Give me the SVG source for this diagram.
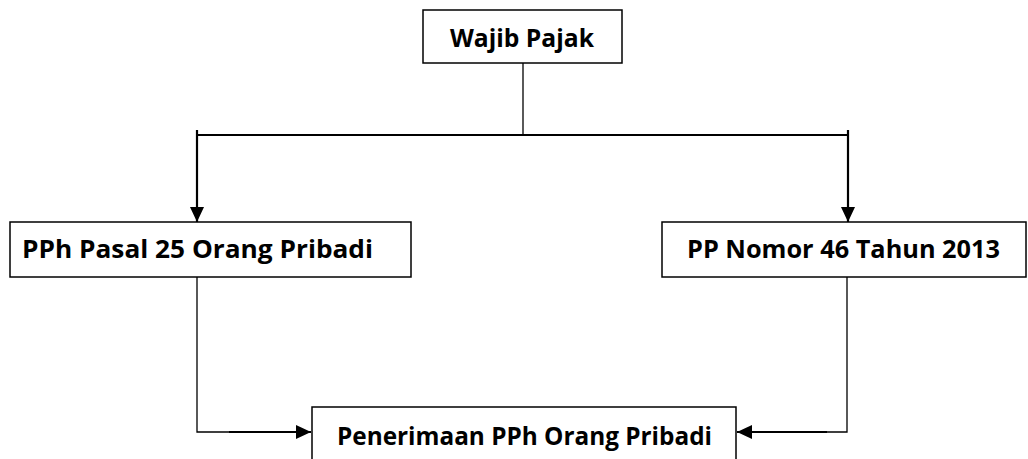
<svg xmlns="http://www.w3.org/2000/svg" width="1028" height="459" viewBox="0 0 1028 459">
<style>
.box{fill:#fff;stroke:#000;stroke-width:1.5}
.lbl{font-family:"Open Sans","Liberation Sans",sans-serif;font-weight:bold;font-size:25px;fill:#000}
.thin{fill:none;stroke:#000;stroke-width:1.3}
.thick{fill:none;stroke:#000;stroke-width:2.2}
</style>
<defs>
<marker id="arrB" markerWidth="15" markerHeight="15" refX="15" refY="7" orient="auto" markerUnits="userSpaceOnUse" viewBox="0 0 15 14">
<path d="M0,0 L15,7 L0,14 Z" fill="#000"/>
</marker>
</defs>
<g id="connectors">
<line class="thin" x1="523" y1="63" x2="523" y2="135"/>
<line class="thick" x1="197" y1="135" x2="848" y2="135"/>
<line class="thick" x1="197" y1="130" x2="197" y2="222" marker-end="url(#arrB)"/>
<line class="thick" x1="848" y1="130" x2="848" y2="222" marker-end="url(#arrB)"/>
<polyline class="thin" points="197,277 197,432 230,432"/>
<line class="thick" x1="229" y1="432" x2="311" y2="432" marker-end="url(#arrB)"/>
<polyline class="thin" points="847,277 847,432 826,432"/>
<line class="thick" x1="827" y1="432" x2="737" y2="432" marker-end="url(#arrB)"/>
</g>
<g id="wajib">
<rect class="box" x="423" y="10" width="199" height="53"/>
<text class="lbl" x="450" y="47" textLength="144" lengthAdjust="spacingAndGlyphs">Wajib Pajak</text>
</g>
<g id="pph25">
<rect class="box" x="10" y="222" width="401" height="55"/>
<text class="lbl" x="22" y="258" textLength="351" lengthAdjust="spacingAndGlyphs">PPh Pasal 25 Orang Pribadi</text>
</g>
<g id="pp46">
<rect class="box" x="662" y="222" width="364" height="55"/>
<text class="lbl" x="687" y="258" textLength="313" lengthAdjust="spacingAndGlyphs">PP Nomor 46 Tahun 2013</text>
</g>
<g id="penerimaan">
<rect class="box" x="312" y="407" width="424" height="70"/>
<text class="lbl" x="337" y="445" textLength="375" lengthAdjust="spacingAndGlyphs">Penerimaan PPh Orang Pribadi</text>
</g>
</svg>
